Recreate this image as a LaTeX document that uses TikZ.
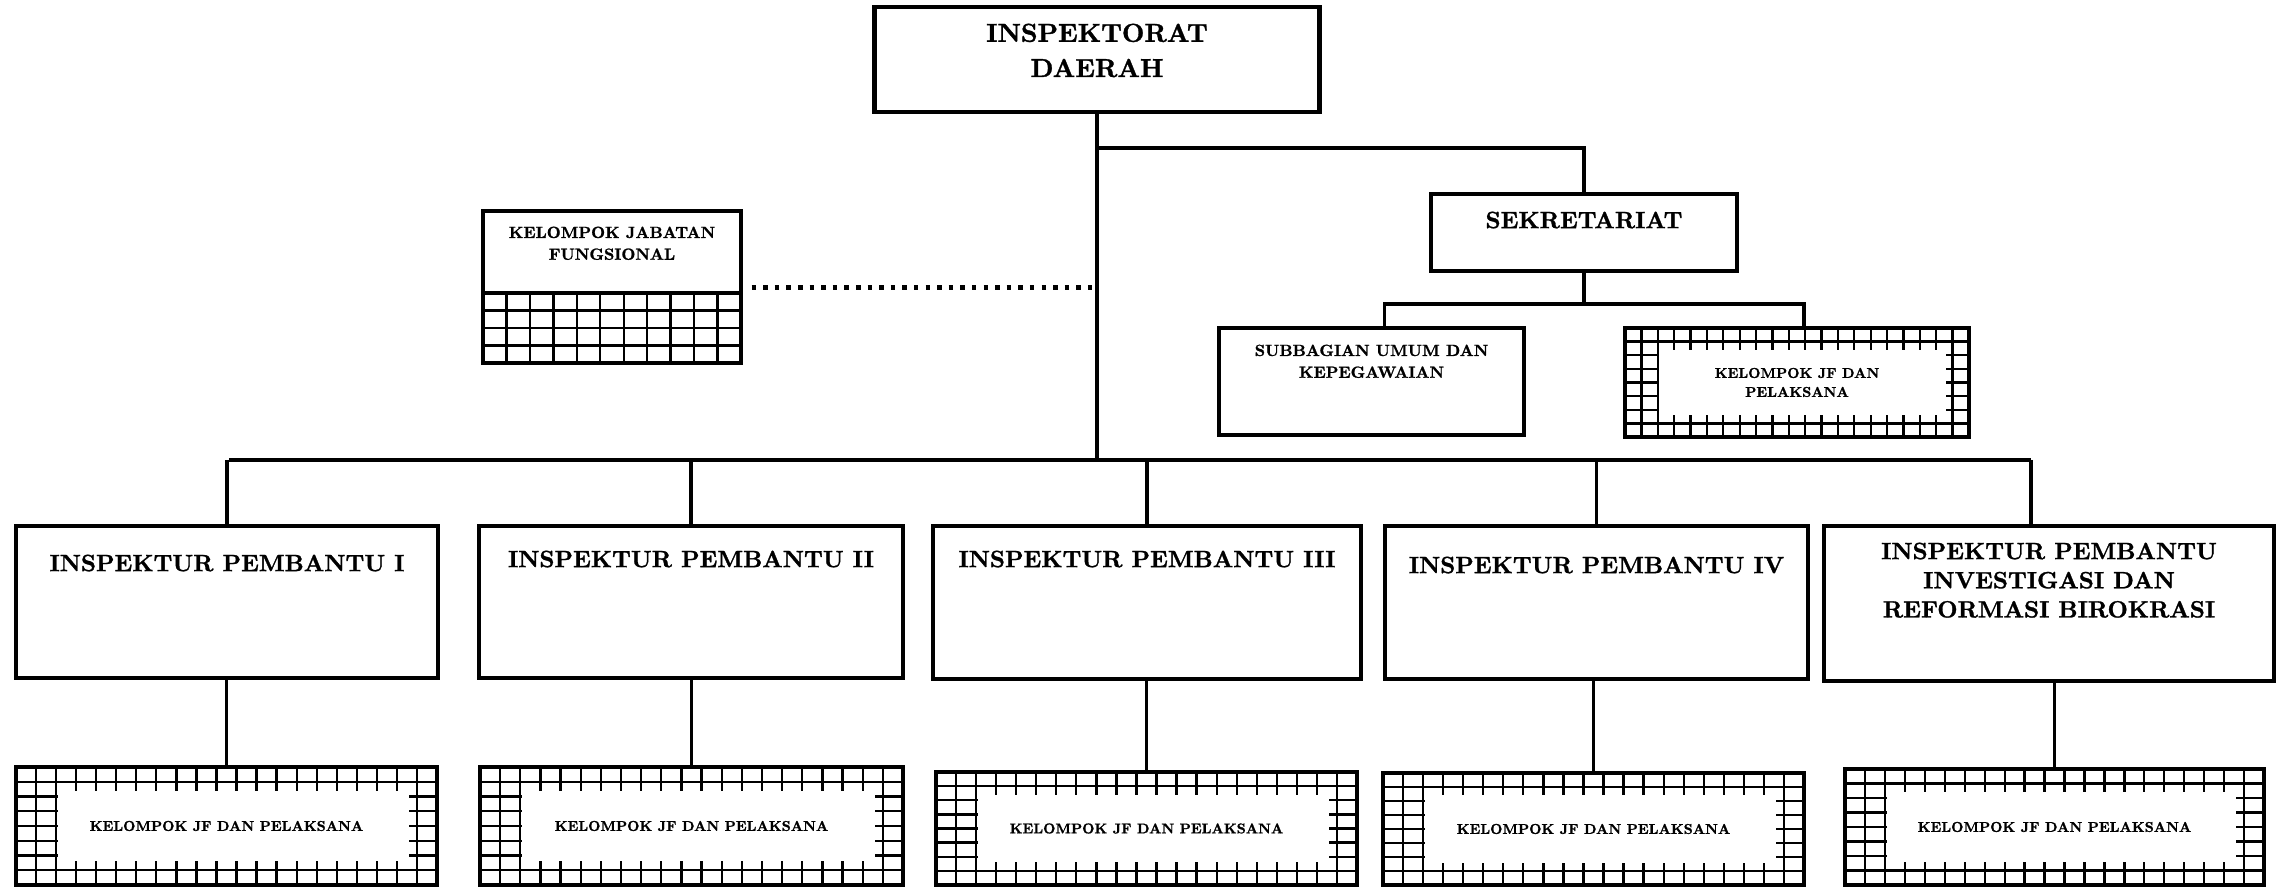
\documentclass[tikz,border=0pt]{standalone}
\usepackage{fontspec}
\setmainfont{lmroman10-regular.otf}[BoldFont=lmroman10-bold.otf, BoldFeatures={FakeBold=1.2}]
\usepackage{tikz}
\usetikzlibrary{positioning}

\begin{document}
\begin{tikzpicture}[
		box/.style={draw, line width=1.4pt, inner sep=0pt, outer sep=0pt, fill=white},
		conn/.style={line width=1.05pt},
		dots/.style={dotted, line width=1.3pt},
		gridline/.style={line width=0.65pt},
		topfont/.style={font=\fontsize{7.4}{10}\selectfont\bfseries, align=center, inner sep=0pt},
		ipfont/.style={font=\fontsize{6.7}{8.3}\selectfont\bfseries, align=center, inner sep=0pt},
		smallfont/.style={font=\fontsize{4.6}{6.2}\selectfont\bfseries, align=center, inner sep=0pt},
		jffont/.style={font=\fontsize{4.05}{5.4}\selectfont\bfseries, align=center, inner sep=0pt},
		jfbox/.style 2 args={box, anchor=north west, minimum width=#1cm, minimum height=#2cm},
	]
		
		%%Frame
		\useasboundingbox (0,0) rectangle (22.83,8.87);
		
		%%Head
		\node[box, minimum width=4.45cm, minimum height=1.05cm] (top) at (10.97,8.275) {};
		\node[topfont, below=0.16 of top.north] (toptxt) {INSPEKTORAT\\DAERAH};
		
		%%Sekretariat
		\node[box, minimum width=3.06cm, minimum height=0.77cm] (sek) at (15.84,6.545) {};
		\node[ipfont, below=0.17 of sek.north] (sektxt) {SEKRETARIAT};
		\node[box, minimum width=3.05cm, minimum height=1.07cm] (sub) at (13.715,5.055) {};
		\node[smallfont, below=0.16 of sub.north] (subtxt) {SUBBAGIAN UMUM DAN\\KEPEGAWAIAN};
		\node[jfbox={3.44}{1.09}] (jfs) at (16.25,5.59) {};
		
		%%Jabatan fungsional
		\node[box, minimum width=2.58cm, minimum height=0.82cm] (kjf) at (6.12,6.35) {};
		\node[smallfont, below=0.15 of kjf.north] (kjftxt) {KELOMPOK JABATAN\\FUNGSIONAL};
		\node[box, minimum width=2.58cm, minimum height=0.70cm, below=0 of kjf] (kjfgrid) {};
		\draw[gridline, shift={(kjfgrid.south west)}, xstep=2.58/11, ystep=0.70/4] (0,0) grid (2.58,0.70);
		\draw[box, fill=none] (kjfgrid.south west) rectangle (kjfgrid.north east);
		
		%%Inspektur pembantu
		\node[box, anchor=north, minimum width=4.22cm, minimum height=1.52cm] (ip1) at (2.27,3.61) {};
		\node[box, anchor=north, minimum width=4.24cm, minimum height=1.52cm] (ip2) at (6.91,3.61) {};
		\node[box, anchor=north, minimum width=4.28cm, minimum height=1.53cm] (ip3) at (11.47,3.61) {};
		\node[box, anchor=north, minimum width=4.23cm, minimum height=1.53cm] (ip4) at (15.965,3.61) {};
		\node[box, anchor=north, minimum width=4.50cm, minimum height=1.55cm] (ip5) at (20.49,3.61) {};
		\node[ipfont, below=0.28 of ip1.north] (ip1txt) {INSPEKTUR PEMBANTU I};
		\node[ipfont, below=0.24 of ip2.north] (ip2txt) {INSPEKTUR PEMBANTU II};
		\node[ipfont, below=0.24 of ip3.north] (ip3txt) {INSPEKTUR PEMBANTU III};
		\node[ipfont, below=0.30 of ip4.north] (ip4txt) {INSPEKTUR PEMBANTU IV};
		\node[ipfont, below=0.16 of ip5.north] (ip5txt) {INSPEKTUR PEMBANTU\\INVESTIGASI DAN\\REFORMASI BIROKRASI};
		
		%%Kelompok JF
		\node[jfbox={4.21}{1.18}] (b1) at (0.16,1.20) {};
		\node[jfbox={4.23}{1.18}] (b2) at (4.80,1.20) {};
		\node[jfbox={4.21}{1.13}] (b3) at (9.36,1.15) {};
		\node[jfbox={4.21}{1.12}] (b4) at (13.83,1.14) {};
		\node[jfbox={4.19}{1.16}] (b5) at (18.45,1.18) {};
		
		%%Grid border
		\foreach \b/\w/\h in {jfs/3.44/1.09, b1/4.21/1.18, b2/4.23/1.18, b3/4.21/1.13, b4/4.21/1.12, b5/4.19/1.16}{
			\pgfmathsetmacro\dx{\w/21}
			\pgfmathsetmacro\dy{\h/8}
			\begin{scope}
				\clip (\b.south west) rectangle (\b.north east);
				\draw[gridline, shift={(\b.south west)}, xstep=\dx, ystep=\dy] (0,0) grid (\w,\h);
				\fill[white] ([shift={(2.08*\dx,1.6*\dy)}]\b.south west) rectangle ([shift={(-1.4*\dx,-1.6*\dy)}]\b.north east);
			\end{scope}
			\draw[box, fill=none] (\b.south west) rectangle (\b.north east);
		}
		
		\node[jffont] (jfstxt) at (jfs.center) {KELOMPOK JF DAN\\PELAKSANA};
		\node[jffont] (b1txt) at (b1.center) {KELOMPOK JF DAN PELAKSANA};
		\node[jffont] (b2txt) at (b2.center) {KELOMPOK JF DAN PELAKSANA};
		\node[jffont] (b3txt) at (b3.center) {KELOMPOK JF DAN PELAKSANA};
		\node[jffont] (b4txt) at (b4.center) {KELOMPOK JF DAN PELAKSANA};
		\node[jffont] (b5txt) at (b5.center) {KELOMPOK JF DAN PELAKSANA};
		
		%%Lines
		\coordinate (barL) at (2.29,4.27);
		\coordinate (barR) at (20.31,4.27);
		\coordinate (sekjoin) at (top.south |- 0,7.39);
		\coordinate (subbar) at (sek.south |- 0,5.83);
		
		\draw[conn] (top.south) -- (top.south |- barL);
		\draw[conn] (sekjoin) -| (sek.north);
		\draw[conn] (sek.south) -- (subbar);
		\draw[conn] ([xshift=0.13cm]sub.north) |- (subbar) -| ([xshift=0.07cm]jfs.north);
		\draw[dots] ([xshift=3pt,yshift=1.5pt]kjf.south east) -- ([yshift=1.5pt]kjf.south east -| top.south);
		
		\draw[conn] (barL) -- (barR);
		\draw[conn] (ip1.north |- barL) -- (ip1.north);
		\draw[conn] (ip2.north |- barL) -- (ip2.north);
		\draw[conn] (ip3.north |- barL) -- (ip3.north);
		\draw[conn] (ip4.north |- barL) -- (ip4.north);
		\draw[conn] (barR) -- (barR |- ip5.north);
		
		\draw[conn] (b1.north |- ip1.south) -- (b1.north);
		\draw[conn] (b2.north |- ip2.south) -- (b2.north);
		\draw[conn] (b3.north |- ip3.south) -- (b3.north);
		\draw[conn] (b4.north |- ip4.south) -- (b4.north);
		\draw[conn] (b5.north |- ip5.south) -- (b5.north);
		
		\end{tikzpicture}
\end{document}
